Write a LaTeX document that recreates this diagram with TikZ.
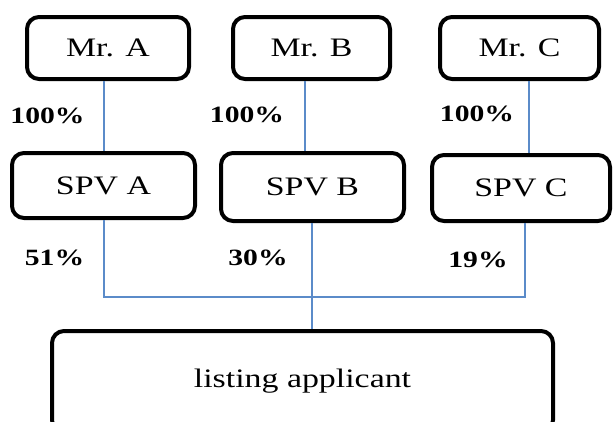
\documentclass[tikz,border=0pt]{standalone}
\usepackage{fontspec}
\setmainfont{Liberation Serif}[FakeStretch=1.27]
\definecolor{linkblue}{RGB}{91,139,201}
\begin{document}
\begin{tikzpicture}[x = 0.75pt, y = -0.75pt,
	box/.style = {draw, line width = 3pt, rounded corners = 9pt, inner sep = 0pt, font = \fontsize{20}{24}\selectfont},
	share/.style = {font = \fontsize{17.5}{21}\selectfont\bfseries},
	link/.style = {draw = linkblue, line width = 1.5pt}]
	\useasboundingbox (0, 0) rectangle (613, 421);
	\node[box, minimum width = 121.5pt, minimum height = 46.5pt] (mra) at (108, 48) {Mr. A};
	\node[box, minimum width = 117.75pt, minimum height = 46.5pt] (mrb) at (311.5, 48) {Mr. B};
	\node[box, minimum width = 119.25pt, minimum height = 46.5pt] (mrc) at (519.5, 48) {Mr. C};
	\node[box, minimum width = 137.25pt, minimum height = 48.75pt] (spva) at (103.5, 185.5) {SPV A};
	\node[box, minimum width = 137.25pt, minimum height = 51pt] (spvb) at (312.5, 187) {SPV B};
	\node[box, minimum width = 133.5pt, minimum height = 49.5pt] (spvc) at (521, 188) {SPV C};
	\node[box, minimum width = 375.75pt, minimum height = 75.75pt] (app) at (302.5, 381.5) {listing applicant};
	\node[share] (pa) at (47.5, 115.5) {100\%};
	\node[share] (pb) at (247, 115) {100\%};
	\node[share] (pc) at (477, 113.5) {100\%};
	\node[share] (sa) at (54.5, 258) {51\%};
	\node[share] (sb) at (258, 258) {30\%};
	\node[share] (sc) at (478, 260) {19\%};
	\coordinate (busl) at (104, 297);
	\coordinate (busr) at (525, 297);
	\coordinate (busm) at (312, 297);
	\draw[link] (mra.south -| spva.north) -- (spva.north);
	\draw[link] (mrb.south -| 305, 0) -- (spvb.north -| 305, 0);
	\draw[link] (mrc.south -| 529, 0) -- (spvc.north -| 529, 0);
	\draw[link] (spva.south -| busl) -- (busl) -- (busr) -- (spvc.south -| busr);
	\draw[link] (spvb.south -| busm) -- (app.north -| busm);
\end{tikzpicture}
\end{document}
